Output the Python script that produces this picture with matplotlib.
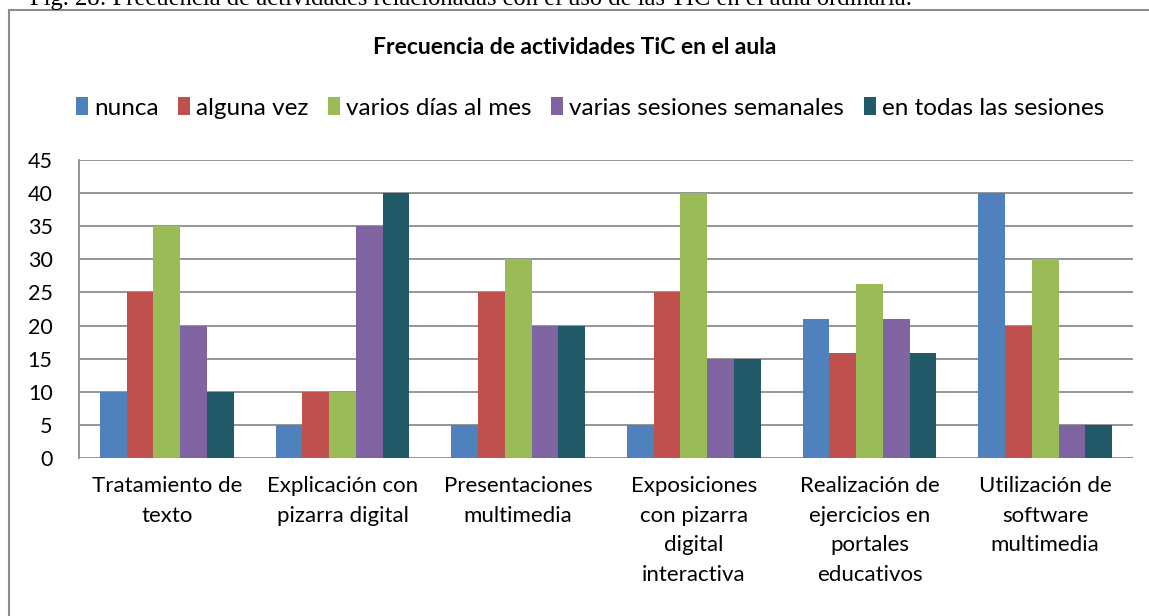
import numpy as np
import matplotlib
matplotlib.use('Agg')
import matplotlib.pyplot as plt
from matplotlib.patches import Rectangle

# Datos
categorias = ['Tratamiento de\ntexto', 'Explicación con\npizarra digital', 'Presentaciones\nmultimedia',
              'Exposiciones\ncon pizarra\ndigital\ninteractiva', 'Realización de\nejercicios en\nportales\neducativos',
              'Utilización de\nsoftware\nmultimedia']
series = ['nunca', 'alguna vez', 'varios días al mes', 'varias sesiones semanales', 'en todas las sesiones']
nunca = [10, 5, 5, 5, 21.05, 40]
alguna_vez = [25, 10, 25, 25, 15.79, 20]
varios_dias = [35, 10, 30, 40, 26.32, 30]
varias_sesiones = [20, 35, 20, 15, 21.05, 5]
todas_sesiones = [10, 40, 20, 15, 15.79, 5]
valores = [nunca, alguna_vez, varios_dias, varias_sesiones, todas_sesiones]
colores = ['#4F81BD', '#C0504D', '#9BBB59', '#8064A2', '#215968']

plt.rcParams['font.family'] = ['Lato', 'DejaVu Sans']

fig = plt.figure(figsize=(11.49, 6.16), dpi=100)
ax = fig.add_axes([79 / 1149, 1 - 458 / 616, (1133 - 79) / 1149, (458 - 160) / 616])

# Marco del gráfico (cortado por la derecha y abajo)
fig.patches.append(Rectangle((9 / 1149, -0.1), 1.2, 1 - 10 / 616 + 0.1, transform=fig.transFigure,
                             fill=False, edgecolor='#8C8C8C', linewidth=1.5))

# Pie de figura cortado arriba
fig.text(30 / 1149, 1 - 5 / 616, 'Fig. 28: Frecuencia de actividades relacionadas con el uso de las TIC en el aula ordinaria.',
         family='Liberation Serif', fontsize=17.7, va='baseline', ha='left')

x = np.arange(len(categorias))
ancho = 1 / 6.58
for i, (nombre, vals, c) in enumerate(zip(series, valores, colores)):
    ax.bar(x + (i - 2) * ancho, vals, width=ancho, color=c, label=nombre, zorder=3)

ax.set_xlim(-0.5, len(categorias) - 0.5)
ax.set_ylim(0, 45)
ax.set_yticks(range(0, 50, 5))
ax.set_xticks(x)
ax.set_xticklabels(categorias, fontsize=16, linespacing=1.6)
ax.tick_params(axis='x', length=0, pad=13)
ax.tick_params(axis='y', length=0, labelsize=15.5, pad=19)
ax.grid(axis='y', color='#8C8C8C', linewidth=1.3, zorder=0)
for s in ['top', 'right', 'bottom']:
    ax.spines[s].set_visible(False)
ax.spines['left'].set_color('#8C8C8C')
ax.spines['left'].set_linewidth(1.3)

fig.text(0.5 * (372 + 777) / 1149, 1 - 47 / 616, 'Frecuencia de actividades TiC en el aula',
         fontsize=16.5, fontweight='bold', ha='center', va='center')

fig.legend(loc='center', bbox_to_anchor=((70 + 1110) / 2 / 1149, 1 - 108 / 616), ncol=5, frameon=False,
           fontsize=17.5, handlelength=0.5, handleheight=0.75, handletextpad=0.25, columnspacing=0.8,
           borderaxespad=0)

fig.savefig('out.png', dpi=100)
